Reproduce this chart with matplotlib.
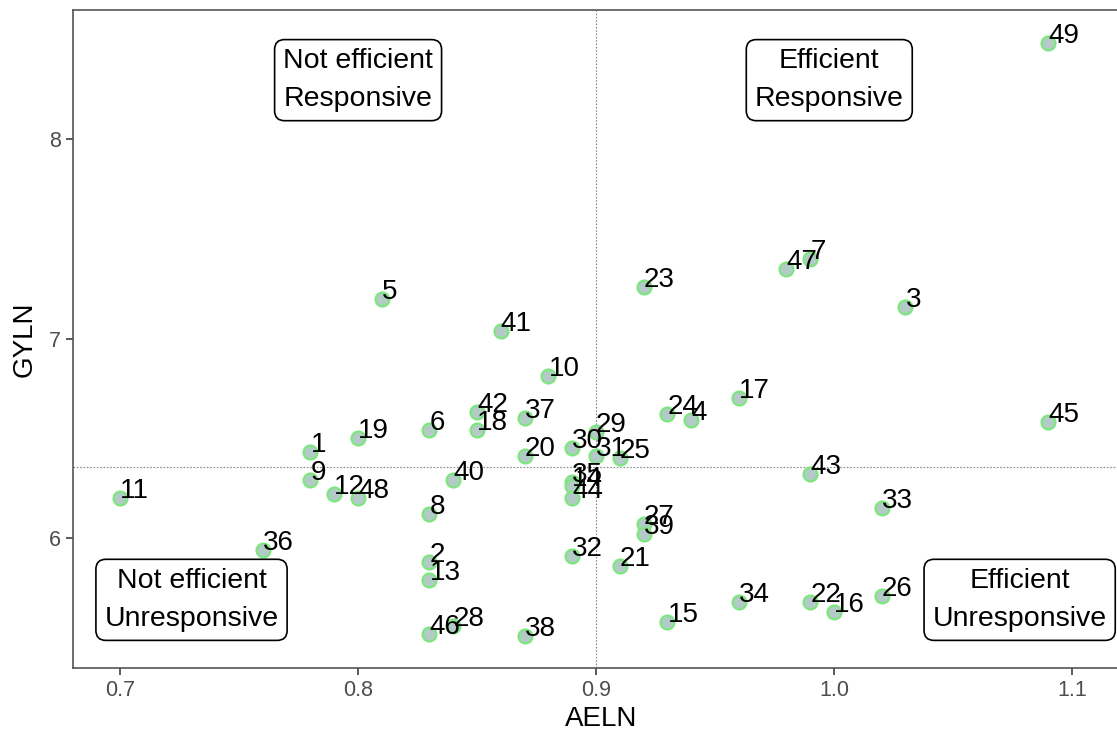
import matplotlib
matplotlib.use("Agg")
import matplotlib.pyplot as plt

plt.rcParams['font.family'] = ['Liberation Sans', 'DejaVu Sans']

ids = [49, 7, 47, 3, 23, 5, 41, 10, 17, 24, 4, 45, 42, 18, 37, 6, 19, 1,
       29, 30, 31, 25, 20, 35, 14, 44, 40, 9, 12, 48, 11, 8, 43, 33, 27, 39,
       36, 2, 13, 32, 21, 46, 28, 38, 15, 34, 22, 16, 26]
aeln = [1.09, 0.99, 0.98, 1.03, 0.92, 0.81, 0.86, 0.88, 0.96, 0.93, 0.94, 1.09,
        0.85, 0.85, 0.87, 0.83, 0.80, 0.78,
        0.90, 0.89, 0.90, 0.91, 0.87, 0.89, 0.89, 0.89, 0.84, 0.78, 0.79, 0.80,
        0.70, 0.83, 0.99, 1.02, 0.92, 0.92,
        0.76, 0.83, 0.83, 0.89, 0.91, 0.83, 0.84, 0.87, 0.93, 0.96, 0.99, 1.00, 1.02]
gyln = [8.48, 7.40, 7.35, 7.16, 7.26, 7.20, 7.04, 6.81, 6.70, 6.62, 6.59, 6.58,
        6.63, 6.54, 6.60, 6.54, 6.50, 6.43,
        6.53, 6.45, 6.41, 6.40, 6.41, 6.28, 6.26, 6.20, 6.29, 6.29, 6.22, 6.20,
        6.20, 6.12, 6.32, 6.15, 6.07, 6.02,
        5.94, 5.88, 5.79, 5.91, 5.86, 5.52, 5.56, 5.51, 5.58, 5.68, 5.68, 5.63, 5.71]

x_ref = 0.90
y_ref = 6.355

quad_labels = ["Not efficient\nResponsive", "Efficient\nResponsive",
               "Not efficient\nUnresponsive", "Efficient\nUnresponsive"]
quad_x = [0.80, 0.998, 0.73, 1.078]
quad_y = [8.295, 8.295, 5.69, 5.69]

W, H = 1117, 734
fig = plt.figure(figsize=(W / 100, H / 100), dpi=100)
left_px, top_px, bottom_px, right_px = 73, 10, 668, 1130
ax = fig.add_axes([left_px / W, 1 - bottom_px / H,
                   (right_px - left_px) / W, (bottom_px - top_px) / H])

ax.set_xlim(0.6802, 0.7 + (right_px - 120) / 2380)
ax.set_ylim(6 - 130 / 199.5, 8 + 129 / 199.5)

ax.axvline(x_ref, color='#8a8a8a', linestyle=(0, (1.5, 1.5)), linewidth=0.8, zorder=1)
ax.axhline(y_ref, color='#8a8a8a', linestyle=(0, (1.5, 1.5)), linewidth=0.8, zorder=1)

ax.scatter(aeln, gyln, s=100, facecolor='#b3cbc7', edgecolor='#7ee67e',
           linewidth=1.6, zorder=2)

for i, xv, yv in zip(ids, aeln, gyln):
    ax.text(xv, yv, str(i), ha='left', va='baseline', fontsize=20,
            color='black', zorder=3)

for lab, xv, yv in zip(quad_labels, quad_x, quad_y):
    ax.text(xv, yv, lab, ha='center', va='center', fontsize=20.5,
            linespacing=1.6, color='black', zorder=4,
            bbox=dict(boxstyle='round,pad=0.3,rounding_size=0.35',
                      facecolor='white', edgecolor='black', linewidth=1.2))

ax.set_xticks([0.7, 0.8, 0.9, 1.0, 1.1])
ax.set_xticklabels(['0.7', '0.8', '0.9', '1.0', '1.1'])
ax.set_yticks([6, 7, 8])
ax.set_yticklabels(['6', '7', '8'])
ax.tick_params(axis='both', labelsize=15.5, labelcolor='#4d4d4d', color='#4d4d4d',
               length=5, width=1.3, pad=4)
for sp in ax.spines.values():
    sp.set_color('#555555')
    sp.set_linewidth(1.2)

ax.set_xlabel('AELN', fontsize=20, labelpad=3)
ax.set_ylabel('GYLN', fontsize=20, labelpad=8)

fig.savefig('out.png', dpi=100)
